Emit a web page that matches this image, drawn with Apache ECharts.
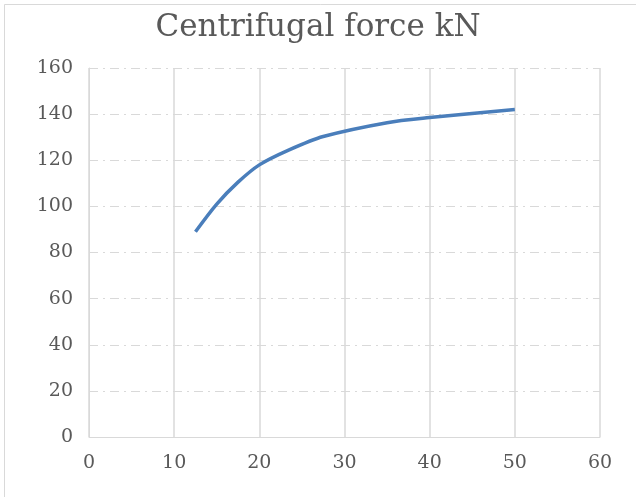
<!DOCTYPE html>
<html>
<head>
<meta charset="utf-8">
<script src="https://cdn.jsdelivr.net/npm/echarts@6/dist/echarts.min.js"></script>
<style>
html,body{margin:0;padding:0;background:#fff;}
#c{width:636px;height:497px;}
</style>
</head>
<body>
<div id="c"></div>
<script>
var titleText = "Centrifugal force kN";
var xValues = [12.5, 15, 17.5, 20, 23.5, 27.5, 35, 40, 50];
var yValues = [89, 101, 110.5, 118, 124.5, 130.3, 136.3, 138.5, 142];

var chart = echarts.init(document.getElementById('c'), null, {renderer:'canvas'});
var fontFam = '"DejaVu Serif", "Liberation Serif", serif';
var data = xValues.map(function(x,i){return [x, yValues[i]];});
chart.setOption({
  backgroundColor:'#fff',
  animation:false,
  title:{
    text:titleText, left:'center', top:7,
    textStyle:{fontFamily:fontFam, fontSize:31, fontWeight:'normal', color:'#595959'}
  },
  graphic:[{type:'rect', shape:{x:4.5,y:4.5,width:700,height:700}, style:{fill:null, stroke:'#d9d9d9', lineWidth:1}, silent:true}],
  grid:{left:89, right:36, top:68, bottom:60, containLabel:false},
  xAxis:{
    type:'value', min:0, max:60, interval:10,
    axisLine:{show:true, lineStyle:{color:'#d9d9d9', width:1}},
    axisTick:{show:false},
    axisLabel:{margin:17, fontFamily:fontFam, fontSize:19, color:'#595959'},
    splitLine:{show:true, lineStyle:{color:'#d9d9d9', width:1.5, type:'solid'}}
  },
  yAxis:{
    type:'value', min:0, max:160, interval:20,
    axisLine:{show:true, lineStyle:{color:'#d9d9d9', width:1}},
    axisTick:{show:false},
    axisLabel:{margin:16, fontFamily:fontFam, fontSize:19, color:'#595959'},
    splitLine:{show:true, lineStyle:{color:'#d9d9d9', width:1, type:[9,5,2,5]}}
  },
  series:[{
    type:'line', data:data, smooth:0.3, symbol:'none',
    lineStyle:{color:'#4a7ebb', width:3.5}
  }]
});
</script>
</body>
</html>
